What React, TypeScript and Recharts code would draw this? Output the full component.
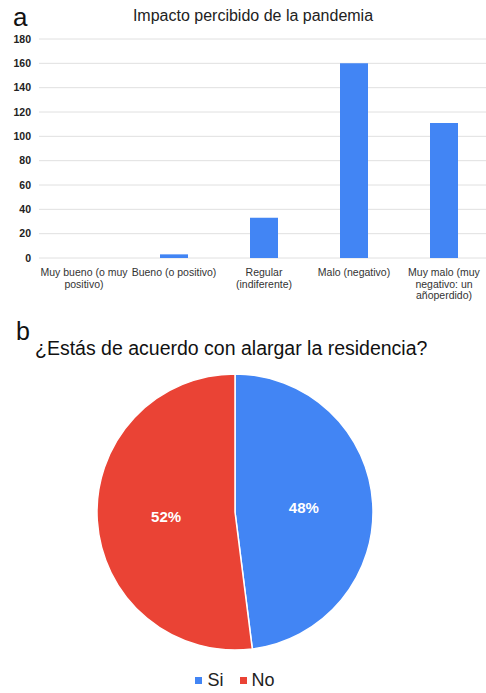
import { BarChart, Bar, XAxis, YAxis, CartesianGrid, PieChart, Pie, Cell, Legend } from "recharts";

const FONT = "Arial, 'Liberation Sans', Helvetica, sans-serif";

// Panel a: impacto percibido
const impactCategories = [
  "Muy bueno (o muy\npositivo)",
  "Bueno (o positivo)",
  "Regular\n(indiferente)",
  "Malo (negativo)",
  "Muy malo (muy\nnegativo: un\nañoperdido)",
];
const impactCounts = [0, 3, 33, 160, 111];
const yTicks = [0, 20, 40, 60, 80, 100, 120, 140, 160, 180];

// Panel b: alargar la residencia
const answerLabels = ["Si", "No"];
const answerPercents = [48, 52];
const answerColors = ["#4285F4", "#EA4335"];

const barData = impactCategories.map((name, i) => ({ name, value: impactCounts[i] }));
const pieData = answerLabels.map((name, i) => ({ name, value: answerPercents[i] }));

const RAD = Math.PI / 180;

function CategoryTick({ x, y, payload }: any) {
  const lines = String(payload.value).split("\n");
  return (
    <text x={x} y={y} textAnchor="middle" fill="#333" fontSize={10.5} fontFamily={FONT}>
      {lines.map((ln, i) => (
        <tspan key={i} x={x} dy={i === 0 ? 10 : 11.5}>
          {ln}
        </tspan>
      ))}
    </text>
  );
}

function PctLabel({ cx, cy, midAngle, outerRadius, value }: any) {
  const r = outerRadius * 0.5;
  const x = cx + r * Math.cos(-midAngle * RAD);
  const y = cy + r * Math.sin(-midAngle * RAD);
  return (
    <text x={x} y={y} fill="#fff" fontSize={15} fontWeight="bold" fontFamily={FONT}
      textAnchor="middle" dominantBaseline="central">
      {`${value}%`}
    </text>
  );
}

function AnswerLegend() {
  return (
    <div style={{ display: "flex", justifyContent: "center", alignItems: "center", fontFamily: FONT, fontSize: 18, color: "#222", paddingRight: 16 }}>
      {answerLabels.map((lbl, i) => (
        <span key={lbl} style={{ display: "flex", alignItems: "center", marginLeft: i ? 16 : 0 }}>
          <span style={{ width: 7, height: 7, background: answerColors[i], display: "inline-block", marginRight: 5 }} />
          {lbl}
        </span>
      ))}
    </div>
  );
}

export default function App() {
  return (
    <div style={{ position: "absolute", left: 0, top: 0, width: 486, height: 693, overflow: "hidden", background: "#fff", fontFamily: FONT }}>
      <div style={{ position: "absolute", left: 0, top: 0 }}>
        <BarChart width={500} height={310} data={barData} margin={{ top: 39, right: 11, left: 0, bottom: 0 }}>
          <CartesianGrid vertical={false} stroke="#e0e0e0" />
          <XAxis dataKey="name" axisLine={false} tickLine={false} height={52} interval={0} tick={<CategoryTick />} />
          <YAxis width={39} domain={[0, 180]} ticks={yTicks} axisLine={false} tickLine={false}
            tick={{ fontSize: 10.5, fontWeight: "bold", fill: "#222", fontFamily: FONT }} />
          <Bar dataKey="value" fill="#4285F4" barSize={28} isAnimationActive={false} />
        </BarChart>
      </div>

      <div style={{ position: "absolute", left: 0, top: 360 }}>
        <PieChart width={486} height={333} margin={{ top: 0, right: 0, bottom: 0, left: 0 }}>
          <Pie data={pieData} dataKey="value" nameKey="name" cx={235} cy={152} outerRadius={138}
            startAngle={90} endAngle={-270} stroke="#fff" strokeWidth={1.5}
            label={<PctLabel />} labelLine={false} isAnimationActive={false}>
            {pieData.map((d, i) => (
              <Cell key={d.name} fill={answerColors[i]} />
            ))}
          </Pie>
          <Legend verticalAlign="bottom" align="center" content={() => <AnswerLegend />}
            wrapperStyle={{ bottom: 2, left: 0, width: 486 }} />
        </PieChart>
      </div>

      <svg width={486} height={693} style={{ position: "absolute", left: 0, top: 0, pointerEvents: "none" }}>
        <text x={13} y={26} fontSize={26} fill="#111" fontFamily={FONT}>a</text>
        <text x={253} y={21} fontSize={16} fill="#222" fontFamily={FONT} textAnchor="middle">
          Impacto percibido de la pandemia
        </text>
        <text x={16} y={340} fontSize={25} fill="#111" fontFamily={FONT}>b</text>
        <text x={35} y={355} fontSize={19.5} fill="#111" fontFamily={FONT}>
          ¿Estás de acuerdo con alargar la residencia?
        </text>
      </svg>
    </div>
  );
}
